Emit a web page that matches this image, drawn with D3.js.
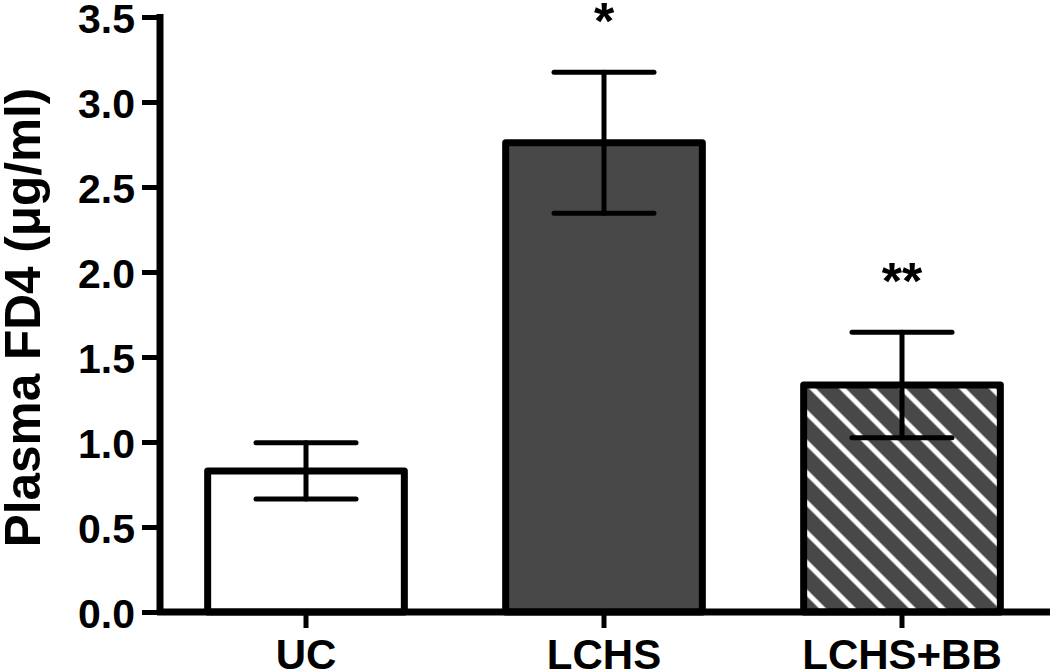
<!DOCTYPE html>
<html><head><meta charset="utf-8">
<script src="https://cdn.jsdelivr.net/npm/d3@7"></script>
<style>
html,body{margin:0;padding:0;background:#fff;}
svg{display:block;font-family:"Liberation Sans",Arial,Helvetica,sans-serif;}
</style></head>
<body><svg id="chart" width="1050" height="672"></svg>
<script>
const categories = ["UC", "LCHS", "LCHS+BB"];
const means = [0.83, 2.76, 1.335];
const errors = [0.165, 0.415, 0.31];
const significance = ["", "*", "**"];
const yTicks = [0.0, 0.5, 1.0, 1.5, 2.0, 2.5, 3.0, 3.5];
const fills = ["#ffffff", "#484848", "hatch"];
const yTitle = "Plasma FD4 (\u03BCg/ml)";

const svg = d3.select("#chart");
const x0 = 160, yBase = 612, yTop = 17;
const x = d3.scaleBand().domain(categories).range([157, 1051]).paddingInner(0.34).paddingOuter(0.17);
const y = d3.scaleLinear().domain([0, 3.5]).range([yBase, yTop]);

// hatch pattern
const defs = svg.append("defs");
const pat = defs.append("pattern").attr("id", "hatch").attr("patternUnits", "userSpaceOnUse")
  .attr("width", 21.2).attr("height", 21.2).attr("patternTransform", "rotate(-45)");
pat.append("rect").attr("width", 21.2).attr("height", 21.2).attr("fill", "#484848");
pat.append("line").attr("x1", 3).attr("x2", 3).attr("y1", 0).attr("y2", 21.2)
  .attr("stroke", "#fff").attr("stroke-width", 5);

// bars
svg.selectAll("rect.bar").data(categories).join("rect").attr("class", "bar")
  .attr("x", d => x(d)).attr("width", x.bandwidth())
  .attr("y", (d, i) => y(means[i])).attr("height", (d, i) => yBase - y(means[i]))
  .attr("fill", (d, i) => fills[i] === "hatch" ? "url(#hatch)" : fills[i])
  .attr("stroke", "#000").attr("stroke-width", 7).attr("stroke-linejoin", "round");

// error bars
const eb = svg.append("g").attr("stroke", "#000").attr("stroke-linecap", "round");
categories.forEach((c, i) => {
  const cx = x(c) + x.bandwidth() / 2;
  const capW = 50;
  eb.append("line").attr("x1", cx).attr("x2", cx).attr("y1", y(means[i] + errors[i])).attr("y2", y(means[i] - errors[i])).attr("stroke-width", 5);
  eb.append("line").attr("x1", cx - capW).attr("x2", cx + capW).attr("y1", y(means[i] + errors[i])).attr("y2", y(means[i] + errors[i])).attr("stroke-width", 5);
  eb.append("line").attr("x1", cx - capW).attr("x2", cx + capW).attr("y1", y(means[i] - errors[i])).attr("y2", y(means[i] - errors[i])).attr("stroke-width", 5);
  if (significance[i]) {
    svg.append("text").attr("x", cx).attr("y", y(means[i] + errors[i]) - 33)
      .attr("text-anchor", "middle").attr("font-weight", "bold").attr("font-size", 52)
      .text(significance[i]);
  }
});

// y axis
const yAxis = d3.axisLeft(y).tickValues(yTicks).tickFormat(d3.format(".1f")).tickSize(18).tickPadding(7);
const gy = svg.append("g").attr("transform", `translate(${x0},0)`).call(yAxis);
gy.select(".domain").attr("d", `M0,${yTop - 3}V${yBase + 3}`).attr("stroke", "#000").attr("stroke-width", 7);
gy.selectAll(".tick line").attr("stroke", "#000").attr("stroke-width", 5);
gy.selectAll(".tick text").attr("font-size", 41).attr("font-weight", "bold").attr("fill", "#000")
  .attr("font-family", "Liberation Sans, Arial, sans-serif").attr("dy", "0.38em");

// x axis
const xAxis = d3.axisBottom(x).tickSize(16).tickPadding(11);
const gx = svg.append("g").attr("transform", `translate(0,${yBase})`).call(xAxis);
gx.select(".domain").attr("d", `M${x0 - 3},0H1050`).attr("stroke", "#000").attr("stroke-width", 7);
gx.selectAll(".tick line").attr("stroke", "#000").attr("stroke-width", 5);
gx.selectAll(".tick text").attr("font-size", 42).attr("font-weight", "bold").attr("fill", "#000")
  .attr("font-family", "Liberation Sans, Arial, sans-serif").attr("dy", "0.71em");

// y title
svg.append("text").attr("transform", `translate(40,${(yTop + yBase) / 2 + 3}) rotate(-90)`)
  .attr("text-anchor", "middle").attr("font-weight", "bold").attr("font-size", 49.5)
  .text(yTitle);
</script></body></html>
